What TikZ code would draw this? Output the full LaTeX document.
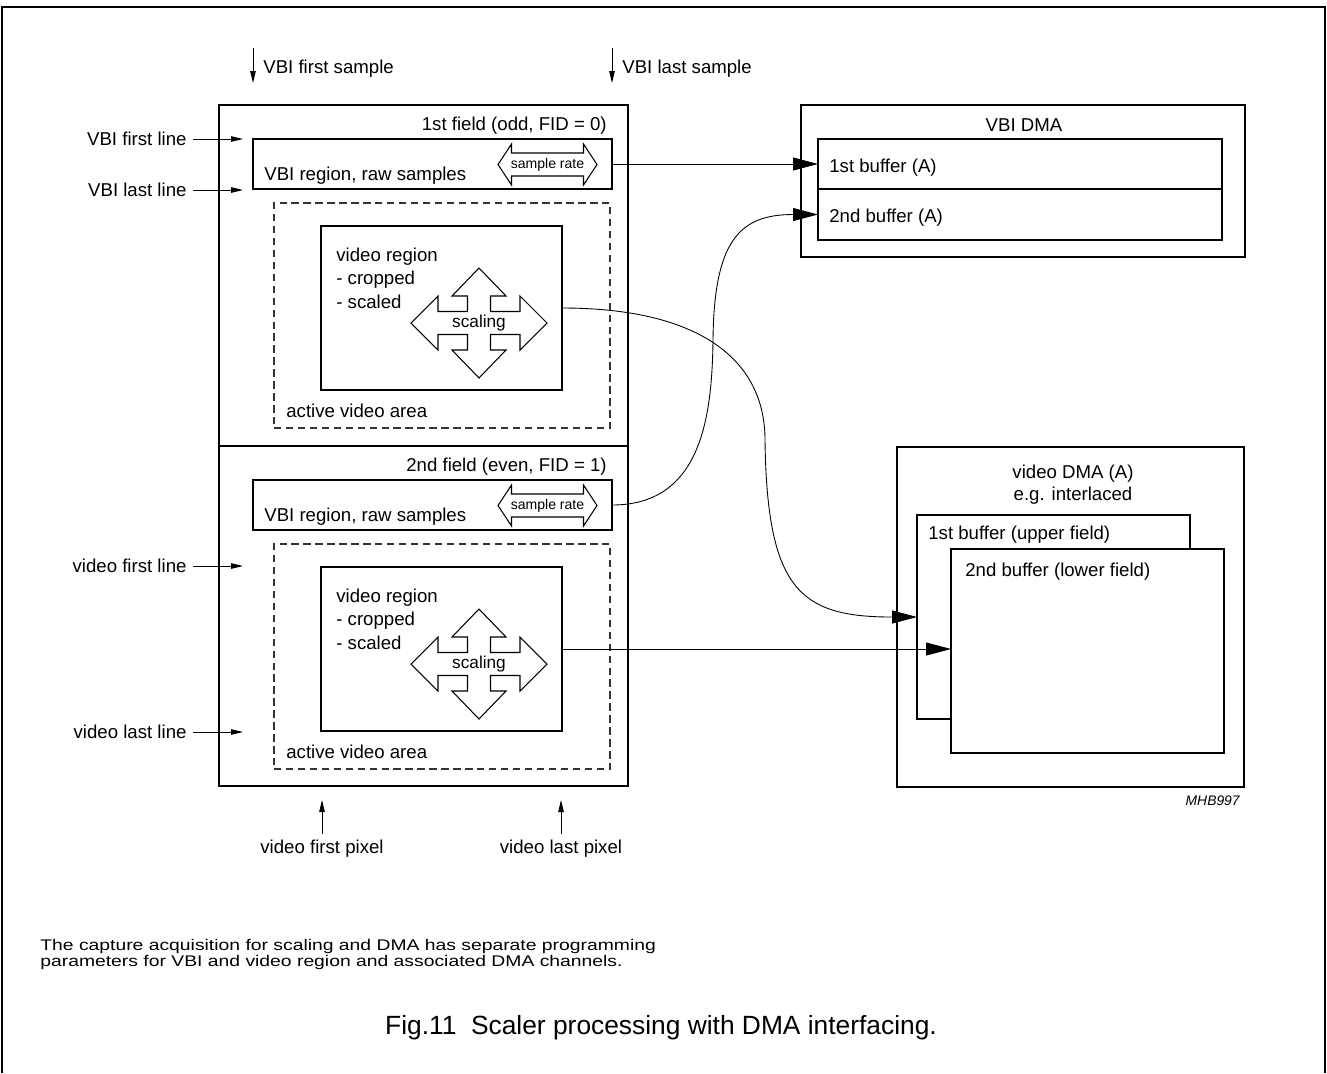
\documentclass[tikz,border=0pt]{standalone}
\usepackage{fontspec}
\setmainfont{Liberation Sans}
\usetikzlibrary{arrows.meta}
\usetikzlibrary{calc}

\tikzset{
  box/.style={draw, line width=0.9pt, fill=white, inner sep=0pt, outer sep=0pt},
  areabox/.style={draw=black!80, line width=0.6pt, dash pattern=on 4.2pt off 2.6pt, inner sep=0pt, outer sep=0pt},
  pxsize/.style 2 args={minimum width=#1*0.02cm, minimum height=#2*0.02cm},
  lbl/.style={font=\fontsize{10.6}{12.7}\selectfont, inner sep=0pt},
  tiny/.style={font=\fontsize{8}{9.6}\selectfont, inner sep=0pt},
  scl/.style={font=\fontsize{9.8}{11.8}\selectfont, inner sep=0pt},
  note/.style={font=\fontsize{8.8}{10}\selectfont, inner sep=0pt, anchor=base west},
  tag/.style={-{Triangle[length=0.24cm, width=0.11cm]}, line width=0.5pt},
  flow/.style={-{Triangle[length=0.5cm, width=0.26cm]}, line width=0.5pt},
  hollow/.style={draw, line width=0.6pt, fill=white},
  % double headed arrow of the sample rate
  ratearrow/.pic={
    \draw[hollow] (-49.5,0) -- (-36,-20.5) -- (-36,-11.5) -- (36,-11.5) -- (36,-20.5) -- (49.5,0)
      -- (36,20.5) -- (36,11.5) -- (-36,11.5) -- (-36,20.5) -- cycle;
    \node[tiny] (-txt) at (0,0) {sample rate};
  },
  % four headed arrow of the scaling
  scalecross/.pic={
    \draw[hollow] (-68,0) -- (-41,-27) -- (-41,-11.5) -- (-11.5,-11.5) -- (-11.5,-27) -- (-27,-27)
      -- (0,-55) -- (27,-27) -- (11.5,-27) -- (11.5,-11.5) -- (41,-11.5) -- (41,-27) -- (68,0)
      -- (41,27) -- (41,11.5) -- (11.5,11.5) -- (11.5,27) -- (27,27) -- (0,55) -- (-27,27)
      -- (-11.5,27) -- (-11.5,11.5) -- (-41,11.5) -- (-41,27) -- cycle;
    \node[scl] (-txt) at (0,0) {scaling};
  },
}

\begin{document}
\begin{tikzpicture}[x=0.02cm, y=-0.02cm]
    % page size and frame
    \useasboundingbox (0,0) rectangle (1327,1073);
    \draw[line width=1pt] (2,1073) -- (2,7) -- (1325,7) -- (1325,1073);

    % the two fields
    \node[box, pxsize={409}{341}] (field1) at (423.5,275.5) {};
    \node[box, pxsize={409}{340}] (field2) at (423.5,616) {};

    % 1st field
    \node[lbl, anchor=base east] (fid0) at (607,130.5) {1st field (odd, FID = 0)};
    \node[box, pxsize={359}{50}] (vbi1) at (432.5,164) {};
    \node[lbl, anchor=base west] (raw1) at (264,180.5) {VBI region, raw samples};
    \pic (rate1) at (547.5,164.5) {ratearrow};
    \node[areabox, pxsize={336}{225}] (area1) at (442,315.5) {};
    \node[box, pxsize={241}{164}] (vid1) at (441.5,308) {};
    \node[lbl, anchor=base west] (reg1) at (336,261.5) {video region};
    \node[lbl, anchor=base west] (crop1) at (336,284.5) {- cropped};
    \node[lbl, anchor=base west] (scal1) at (336,308.5) {- scaled};
    \pic (cross1) at (479,323) {scalecross};
    \node[lbl, anchor=base west] (act1) at (286,417) {active video area};

    % 2nd field
    \node[lbl, anchor=base east] (fid1) at (607,471.5) {2nd field (even, FID = 1)};
    \node[box, pxsize={359}{50}] (vbi2) at (432.5,505) {};
    \node[lbl, anchor=base west] (raw2) at (264,521.5) {VBI region, raw samples};
    \pic (rate2) at (547.5,505.5) {ratearrow};
    \node[areabox, pxsize={336}{225}] (area2) at (442,656.5) {};
    \node[box, pxsize={241}{164}] (vid2) at (441.5,649) {};
    \node[lbl, anchor=base west] (reg2) at (336,602.5) {video region};
    \node[lbl, anchor=base west] (crop2) at (336,625.5) {- cropped};
    \node[lbl, anchor=base west] (scal2) at (336,649.5) {- scaled};
    \pic (cross2) at (479,664) {scalecross};
    \node[lbl, anchor=base west] (act2) at (286,758) {active video area};

    % sample and pixel markers
    \coordinate (fs0) at (253,48);
    \coordinate (fs1) at (253,83);
    \draw[tag] (fs0) -- (fs1);
    \node[lbl, anchor=base west] (fst) at (263,73.5) {VBI first sample};
    \coordinate (ls0) at (612,48);
    \coordinate (ls1) at (612,83);
    \draw[tag] (ls0) -- (ls1);
    \node[lbl, anchor=base west] (lst) at (622,73.5) {VBI last sample};

    \coordinate (fp0) at (322,834);
    \coordinate (fp1) at (322,800);
    \draw[tag] (fp0) -- (fp1);
    \node[lbl, anchor=base] (fpx) at (322,853) {video first pixel};
    \coordinate (lp0) at (561,834);
    \coordinate (lp1) at (561,800);
    \draw[tag] (lp0) -- (lp1);
    \node[lbl, anchor=base] (lpx) at (561,853) {video last pixel};

    % line markers
    \node[lbl, anchor=east, inner xsep=3.5pt] (vfl) at (193,139) {VBI first line};
    \coordinate (vfl1) at (243,139);
    \draw[tag] (vfl.east) -- (vfl1);
    \node[lbl, anchor=east, inner xsep=3.5pt] (vll) at (193,190) {VBI last line};
    \coordinate (vll1) at (243,190);
    \draw[tag] (vll.east) -- (vll1);
    \node[lbl, anchor=east, inner xsep=3.5pt] (dfl) at (193,566) {video first line};
    \coordinate (dfl1) at (243,566);
    \draw[tag] (dfl.east) -- (dfl1);
    \node[lbl, anchor=east, inner xsep=3.5pt] (dll) at (193,732) {video last line};
    \coordinate (dll1) at (243,732);
    \draw[tag] (dll.east) -- (dll1);

    % VBI DMA
    \node[box, pxsize={444}{152}] (vbidma) at (1023,181) {};
    \node[lbl, anchor=base] (vbidmat) at (1024,131.5) {VBI DMA};
    \node[box, pxsize={404}{50}] (bufa1) at (1020,164) {};
    \node[box, pxsize={404}{51}] (bufa2) at (1020,214.5) {};
    \node[lbl, anchor=base west] (bufa1t) at (829,172.5) {1st buffer (A)};
    \node[lbl, anchor=base west] (bufa2t) at (829,222.5) {2nd buffer (A)};

    % video DMA
    \node[box, pxsize={347}{340}] (viddma) at (1070.5,617) {};
    \node[lbl, anchor=base] (viddmat) at (1073,478.5) {video DMA (A)};
    \node[lbl, anchor=base] (interl) at (1073,500) {e.g. interlaced};
    \node[box, pxsize={273}{204}] (upbuf) at (1053.5,617) {};
    \node[lbl, anchor=base west] (upbuft) at (928,539.5) {1st buffer (upper field)};
    \node[box, pxsize={273}{204}] (lowbuf) at (1087.5,651) {};
    \node[lbl, anchor=base west] (lowbuft) at (965,576.5) {2nd buffer (lower field)};
    \node[font=\fontsize{7.9}{9.5}\selectfont\itshape, inner sep=0pt, anchor=base east] (code) at (1240,805) {MHB997};

    % DMA transfers
    \draw[flow] (vbi1.east) -- (bufa1.west);
    \draw[flow] (vbi2.east) .. controls (700,505) and (712,420) .. (713,340)
      .. controls (714,240) and (740,214.5) .. (bufa2.west);
    \draw[flow] (vid1.east) .. controls (700,308) and (765,360) .. (765,440)
      .. controls (767,590) and (800,617) .. (upbuf.west);
    \draw[flow] (vid2.east) -- (vid2.east -| lowbuf.west);

    % notes and caption
    \node[note] (note1) at (40,950)
      {\scalebox{1.25}[1]{The capture acquisition for scaling and DMA has separate programming}};
    \node[note] (note2) at (40,966)
      {\scalebox{1.25}[1]{parameters for VBI and video region and associated DMA channels.}};
    \node[font=\fontsize{15}{18}\selectfont, inner sep=0pt, anchor=base] (figcap) at (661,1034)
      {Fig.11\ \ Scaler processing with DMA interfacing.};
\end{tikzpicture}
\end{document}
